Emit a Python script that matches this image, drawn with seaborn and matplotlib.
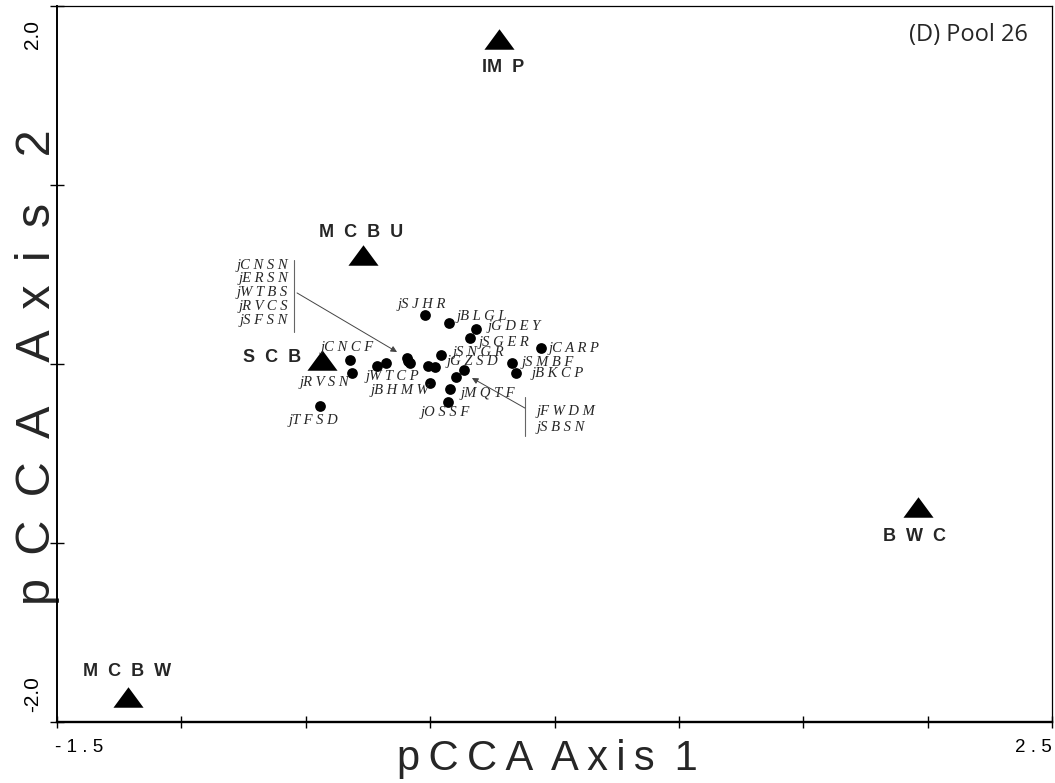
import matplotlib
matplotlib.use('Agg')
import matplotlib.pyplot as plt
import seaborn as sns
from matplotlib.transforms import ScaledTranslation


#%% data

species = ['jCNCF', 'jRVSN', 'jTFSD', 'jWTCP', 'jBHMW',
           'jCNSN', 'jERSN', 'jWTBS', 'jRVCS', 'jSFSN',
           'jSJHR', 'jBLGL', 'jGDEY', 'jSGER', 'jCARP', 'jSNGR',
           'jGZSD', 'jSMBF', 'jBKCP', 'jMQTF', 'jOSSF',
           'jFWDM', 'jSBSN']
sp_axis1 = [-0.322, -0.314, -0.443, -0.214, -0.001,
            -0.177, -0.093, -0.081, -0.089, -0.009,
            -0.021, 0.076, 0.184, 0.160, 0.446, 0.044,
            0.020, 0.329, 0.345, 0.080, 0.072,
            0.136, 0.104]
sp_axis2 = [0.022, -0.050, -0.235, -0.011, -0.106,
            0.006, 0.034, 0.006, 0.017, -0.011,
            0.274, 0.229, 0.196, 0.145, 0.089, 0.050,
            -0.017, 0.006, -0.050, -0.140, -0.212,
            -0.034, -0.073]

env_names = ['IMP', 'MCBU', 'SCB', 'BWC', 'MCBW']
env_axis1 = [0.277, -0.270, -0.435, 1.961, -1.215]
env_axis2 = [1.816, 0.609, 0.022, -0.799, -1.860]

left_group = ['jCNSN', 'jERSN', 'jWTBS', 'jRVCS', 'jSFSN']
right_group = ['jFWDM', 'jSBSN']

x_ticks = [-1.5, -1.0, -0.5, 0.0, 0.5, 1.0, 1.5, 2.0, 2.5]
y_ticks = [-2.0, -1.0, 0.0, 1.0, 2.0]


#%% helpers

THIN = '\u2009'

def spaced(text, sep=THIN):
    return sep.join(text)

def species_text(name):
    return name[:2] + ' ' + ' '.join(name[2:])


#%% figure

sns.set_style('ticks')
plt.rcParams['font.family'] = ['Liberation Sans', 'DejaVu Sans']

fig = plt.figure(figsize=(10.55, 7.83), dpi=100)
ax = fig.add_axes([57 / 1055, 61 / 783, 995 / 1055, 716 / 783])

# species points
sns.scatterplot(x=sp_axis1, y=sp_axis2, color='black', marker='o', s=60,
                linewidth=0, legend=False, ax=ax, zorder=3)

# environmental variables as flat triangles
tri = [(0, 0.68), (-1, -0.68), (1, -0.68)]
sns.scatterplot(x=env_axis1, y=env_axis2, color='black', marker=tri, s=470,
                linewidth=0, legend=False, ax=ax, zorder=3)

env_offsets = {'IMP': (4, -29), 'MCBU': (-2, 22), 'SCB': (-50, 3),
               'BWC': (-3, -29), 'MCBW': (-1, 25)}
env_text = {'IMP': 'IM  P'}
for name, x, y in zip(env_names, env_axis1, env_axis2):
    ax.annotate(env_text.get(name, spaced(name, '  ')), (x, y),
                xytext=env_offsets[name], textcoords='offset pixels',
                ha='center', va='center', fontsize=13, fontweight='bold')

sp_offsets = {'jCNCF': (-3, 13), 'jRVSN': (-28, -10), 'jTFSD': (-6, -14),
              'jWTCP': (15, -11), 'jBHMW': (-30, -8), 'jSJHR': (-3, 10),
              'jBLGL': (33, 7), 'jGDEY': (38, 2), 'jSGER': (34, -4),
              'jCARP': (33, 0), 'jSNGR': (37, 3), 'jGZSD': (37, 6),
              'jSMBF': (36, 0), 'jBKCP': (42, -1), 'jMQTF': (38, -4),
              'jOSSF': (-3, -11)}
serif = dict(family=['Liberation Serif', 'DejaVu Serif'], style='italic',
             fontsize=10.5)
for name, x, y in zip(species, sp_axis1, sp_axis2):
    if name in sp_offsets:
        ax.annotate(species_text(name), (x, y), xytext=sp_offsets[name],
                    textcoords='offset pixels', ha='center', va='center',
                    **serif)

# grouped labels with bracket line and arrow
for i, name in enumerate(left_group):
    ax.text(-0.571, 0.553 - i * 0.078, species_text(name), ha='right',
            va='center', **serif)
ax.plot([-0.547, -0.547], [0.581, 0.179], color='#666666', lw=0.8)
ax.annotate('', xy=(-0.133, 0.067), xytext=(-0.535, 0.397),
            arrowprops=dict(arrowstyle='-|>', color='#444444', lw=0.7,
                            mutation_scale=9, shrinkA=0, shrinkB=0))

for i, name in enumerate(right_group):
    ax.text(0.426, -0.268 - i * 0.084, species_text(name), ha='left',
            va='center', **serif)
ax.plot([0.381, 0.381], [-0.184, -0.402], color='#666666', lw=0.8)
ax.annotate('', xy=(0.168, -0.078), xytext=(0.381, -0.246),
            arrowprops=dict(arrowstyle='-|>', color='#444444', lw=0.7,
                            mutation_scale=9, shrinkA=0, shrinkB=0))

ax.text(0.976, 0.9595, '(D) Pool 26', transform=ax.transAxes, ha='right',
        va='center', fontsize=17, family=['Open Sans', 'DejaVu Sans'])

#%% axes styling

ax.set_xlim(-1.5, 2.5)
ax.set_ylim(-2.0, 2.0)
ax.set_xticks(x_ticks)
ax.set_yticks(y_ticks)
ax.set_xticklabels([spaced(f'{t:.1f}', ' ') if t in (x_ticks[0], x_ticks[-1])
                    else '' for t in x_ticks], fontsize=13.5)
ax.set_yticklabels([f'{t:.1f}' if t in (y_ticks[0], y_ticks[-1]) else ''
                    for t in y_ticks], fontsize=15, rotation=90)

ax.tick_params(axis='x', direction='inout', length=8, width=1, pad=8,
               colors='black')
ax.tick_params(axis='y', direction='inout', length=10, width=1, pad=6,
               colors='black')

xl = ax.get_xticklabels()
xl[0].set_ha('left')
xl[0].set_transform(xl[0].get_transform()
                    + ScaledTranslation(-0.02, 0, fig.dpi_scale_trans))
xl[-1].set_ha('right')

yl = ax.get_yticklabels()
yl[-1].set_va('top')
yl[-1].set_transform(yl[-1].get_transform()
                     + ScaledTranslation(0, -0.14, fig.dpi_scale_trans))
yl[0].set_va('bottom')
yl[0].set_transform(yl[0].get_transform()
                    + ScaledTranslation(0, 0.10, fig.dpi_scale_trans))

for side in ['top', 'right']:
    ax.spines[side].set_linewidth(0.9)
ax.spines['left'].set_linewidth(1.4)
ax.spines['bottom'].set_linewidth(1.7)
for sp in ax.spines.values():
    sp.set_color('black')

ax.set_xlabel(spaced('pCCA', THIN) + ' ' + THIN + spaced('Axis', THIN)
              + ' ' + THIN + '1', fontsize=30)
ax.xaxis.set_label_coords(0.493, -0.067)
ax.xaxis.label.set_va('baseline')

sep_y = ' ' + THIN
ax.set_ylabel(spaced('pCCA', sep_y) + sep_y + sep_y + spaced('Axis', sep_y)
              + sep_y + sep_y + '2', fontsize=35)
ax.yaxis.set_label_coords(-0.007, 0.496)
ax.yaxis.label.set_va('baseline')

fig.savefig('out.png', dpi=100)
